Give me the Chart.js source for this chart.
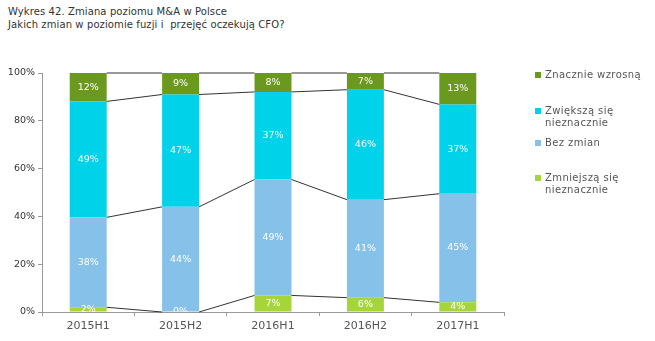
<!DOCTYPE html>
<html>
<head>
<meta charset="utf-8">
<script src="https://cdn.jsdelivr.net/npm/chart.js@4"></script>
<style>
  body { margin: 0; background: #fff; font-family: "DejaVu Sans", sans-serif; }
  #wrap { position: relative; width: 655px; height: 341px; }
  #title { position: absolute; left: 8px; top: 5px; font-size: 10px; line-height: 13px; color: #333; letter-spacing: 0.1px; }
  #legend { position: absolute; left: 535px; top: 0; }
  .item { position: absolute; left: 0; width: 120px; font-size: 10px; line-height: 12px; color: #555; letter-spacing: 0.4px; }
  .sw { position: absolute; left: 0; top: 3px; width: 6px; height: 6px; }
  .txt { margin-left: 10px; white-space: nowrap; }
  canvas { position: absolute; left: 0; top: 0; }
</style>
</head>
<body>
<div id="wrap">
  <div id="title">Wykres 42. Zmiana poziomu M&amp;A w Polsce<br>Jakich zmian w poziomie fuzji i &nbsp;przejęć oczekują CFO?</div>
  <canvas id="myChart" width="655" height="341"></canvas>
  <div id="legend"></div>
</div>
<script>
// data (percent answers per survey half-year)
var periods = ["2015H1", "2015H2", "2016H1", "2016H2", "2017H1"];
var zmniejsza = [2, 0, 7, 6, 4];
var bezZmian = [38, 44, 49, 41, 45];
var zwiekszaSie = [49, 47, 37, 46, 37];
var znacznieWzrosna = [12, 9, 8, 7, 13];
var seriesNames = ["Zmniejszą się\nnieznacznie", "Bez zmian", "Zwiększą się\nnieznacznie", "Znacznie wzrosną"];
var yTicks = [0, 20, 40, 60, 80, 100];

var colors = ["#a6d53a", "#86c1e9", "#00d2ea", "#6b981f"];
var raw = [zmniejsza, bezZmian, zwiekszaSie, znacznieWzrosna];

// bars are drawn as share of the total (100% stacked)
var totals = periods.map(function (p, i) {
    return raw.reduce(function (s, arr) { return s + arr[i]; }, 0);
});
var shares = raw.map(function (arr) {
    return arr.map(function (v, i) { return v / totals[i] * 100; });
});

// legend (top to bottom = top series first)
var legendTops = [69, 105, 137, 172];
var legend = document.getElementById("legend");
for (var k = 3; k >= 0; k--) {
    var item = document.createElement("div");
    item.className = "item";
    item.style.top = legendTops[3 - k] + "px";
    item.innerHTML = '<span class="sw" style="background:' + colors[k] + '"></span><div class="txt">' +
        seriesNames[k].replace("\n", "<br>") + "</div>";
    legend.appendChild(item);
}

var connectors = {
    id: "connectors",
    afterDatasetsDraw: function (chart) {
        var ctx = chart.ctx;
        var area = chart.chartArea;
        // series lines between bars
        ctx.save();
        ctx.strokeStyle = "#333";
        ctx.lineWidth = 1;
        chart.data.datasets.forEach(function (ds, d) {
            var bars = chart.getDatasetMeta(d).data;
            for (var i = 0; i < bars.length - 1; i++) {
                var a = bars[i], b = bars[i + 1];
                ctx.beginPath();
                ctx.moveTo(a.x + a.width / 2, a.y);
                ctx.lineTo(b.x - b.width / 2, b.y);
                ctx.stroke();
            }
        });
        ctx.restore();
        // value labels
        ctx.save();
        ctx.beginPath();
        ctx.rect(area.left, area.top, area.right - area.left, area.bottom - area.top);
        ctx.clip();
        ctx.fillStyle = "#fff";
        ctx.font = "9.5px 'DejaVu Sans'";
        ctx.textAlign = "center";
        ctx.textBaseline = "middle";
        chart.data.datasets.forEach(function (ds, d) {
            chart.getDatasetMeta(d).data.forEach(function (bar, i) {
                ctx.fillText(raw[d][i] + "%", bar.x, (bar.y + bar.base) / 2);
            });
        });
        ctx.restore();
    }
};

new Chart("myChart", {
    type: "bar",
    data: {
        labels: periods,
        datasets: shares.map(function (arr, d) {
            return {
                label: seriesNames[d],
                data: arr,
                backgroundColor: colors[d],
                borderWidth: 0,
                categoryPercentage: 1,
                barPercentage: 0.4
            };
        })
    },
    options: {
        responsive: false,
        animation: false,
        layout: { padding: { top: 73, right: 151, left: 0, bottom: 0 } },
        plugins: { legend: { display: false }, tooltip: { enabled: false } },
        scales: {
            x: {
                stacked: true,
                afterFit: function (s) { s.height = 29; },
                grid: { drawOnChartArea: false, tickLength: 4, color: "#999" },
                border: { color: "#999" },
                ticks: { color: "#555", font: { family: "DejaVu Sans", size: 11 }, padding: 4 }
            },
            y: {
                stacked: true,
                min: 0,
                max: 100,
                afterFit: function (s) { s.width = 42; },
                afterBuildTicks: function (s) { s.ticks = yTicks.map(function (v) { return { value: v }; }); },
                grid: { drawOnChartArea: false, tickLength: 4, color: "#999" },
                border: { color: "#999" },
                ticks: {
                    color: "#333",
                    font: { family: "DejaVu Sans", size: 9.5 },
                    padding: 3,
                    callback: function (v) { return v + "%"; }
                }
            }
        }
    },
    plugins: [connectors]
});
</script>
</body>
</html>
